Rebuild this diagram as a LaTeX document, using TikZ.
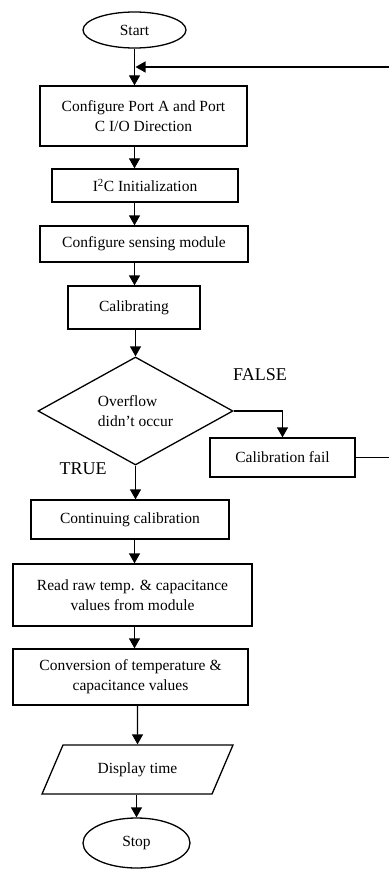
\documentclass[tikz,border=0pt]{standalone}
\usepackage{fontspec}
\setmainfont{Liberation Serif}
\usetikzlibrary{shapes.geometric,arrows.meta}
\begin{document}
\begin{tikzpicture}[x=1pt,y=-1pt,
  every node/.style={font=\fontsize{15.5}{20}\selectfont, inner sep=0pt},
  box/.style={draw, rectangle, line width=1.3pt, align=center},
  term/.style={draw, ellipse, line width=1.3pt},
  lbl/.style={font=\fontsize{18}{20}\selectfont},
  arr/.style={line width=1.3pt, -{Triangle[length=10pt,width=11pt]}},
  ln/.style={line width=1.3pt}]
\useasboundingbox (0,0) rectangle (388,869);
\node[term, minimum width=103pt, minimum height=36pt] (start) at (134.5,30) {Start};
\node[box, minimum width=207pt, minimum height=60pt] (b1) at (143.5,116) {Configure Port A and Port\\C I/O Direction};
\node[box, minimum width=186pt, minimum height=33pt] (b2) at (145,185.5) {I\textsuperscript{2}C Initialization};
\node[box, minimum width=208pt, minimum height=36pt] (b3) at (144,244) {Configure sensing module};
\node[box, minimum width=132pt, minimum height=43pt] (b4) at (134,307.5) {Calibrating};
\node[draw, diamond, line width=1.3pt, aspect=1.8, minimum width=195pt, minimum height=108pt, align=left] (dia) at (135.5,411) {Overflow\\didn’t occur};
\node[box, minimum width=145pt, minimum height=39pt] (fail) at (282.5,457.5) {Calibration fail};
\node[box, minimum width=198pt, minimum height=39pt] (b5) at (130,519.5) {Continuing calibration};
\node[box, minimum width=239pt, minimum height=62pt] (b6) at (132.5,595) {Read raw temp. \& capacitance\\values from module};
\node[box, minimum width=235pt, minimum height=56pt] (b7) at (130.5,677) {Conversion of temperature \&\\capacitance values};
\node[draw, trapezium, trapezium stretches=true, trapezium left angle=51.5, trapezium right angle=128.5, line width=1.3pt, minimum width=191pt, minimum height=49pt] (disp) at (137.5,769.5) {Display time};
\node[term, minimum width=107pt, minimum height=50pt] (stop) at (136.5,843) {Stop};
\node[lbl] (false) at (260,375) {FALSE};
\node[lbl] (true) at (83,469) {TRUE};
\coordinate (spine) at (134.5,0);
\coordinate (join) at (135.5,67);
\draw[arr] (start.south) -- (start.south |- b1.north);
\draw[arr] (b1.south -| spine) -- (b2.north -| spine);
\draw[arr] (b2.south -| spine) -- (b3.north -| spine);
\draw[arr] (b3.south -| spine) -- (b4.north -| spine);
\draw[arr] (b4.south -| dia) -- (dia.north);
\draw[arr] (dia.east) -| (fail.north);
\draw[arr] (dia.south) -- (dia.south |- b5.north);
\draw[arr] (b5.south -| spine) -- (b6.north -| spine);
\draw[arr] (b6.south -| spine) -- (b7.north -| spine);
\draw[arr] (b7.south -| disp) -- (disp.north);
\draw[arr] (disp.south -| stop) -- (stop.north);
\draw[arr] (fail.east) -- ++(40,0) |- (join);
\end{tikzpicture}
\end{document}
